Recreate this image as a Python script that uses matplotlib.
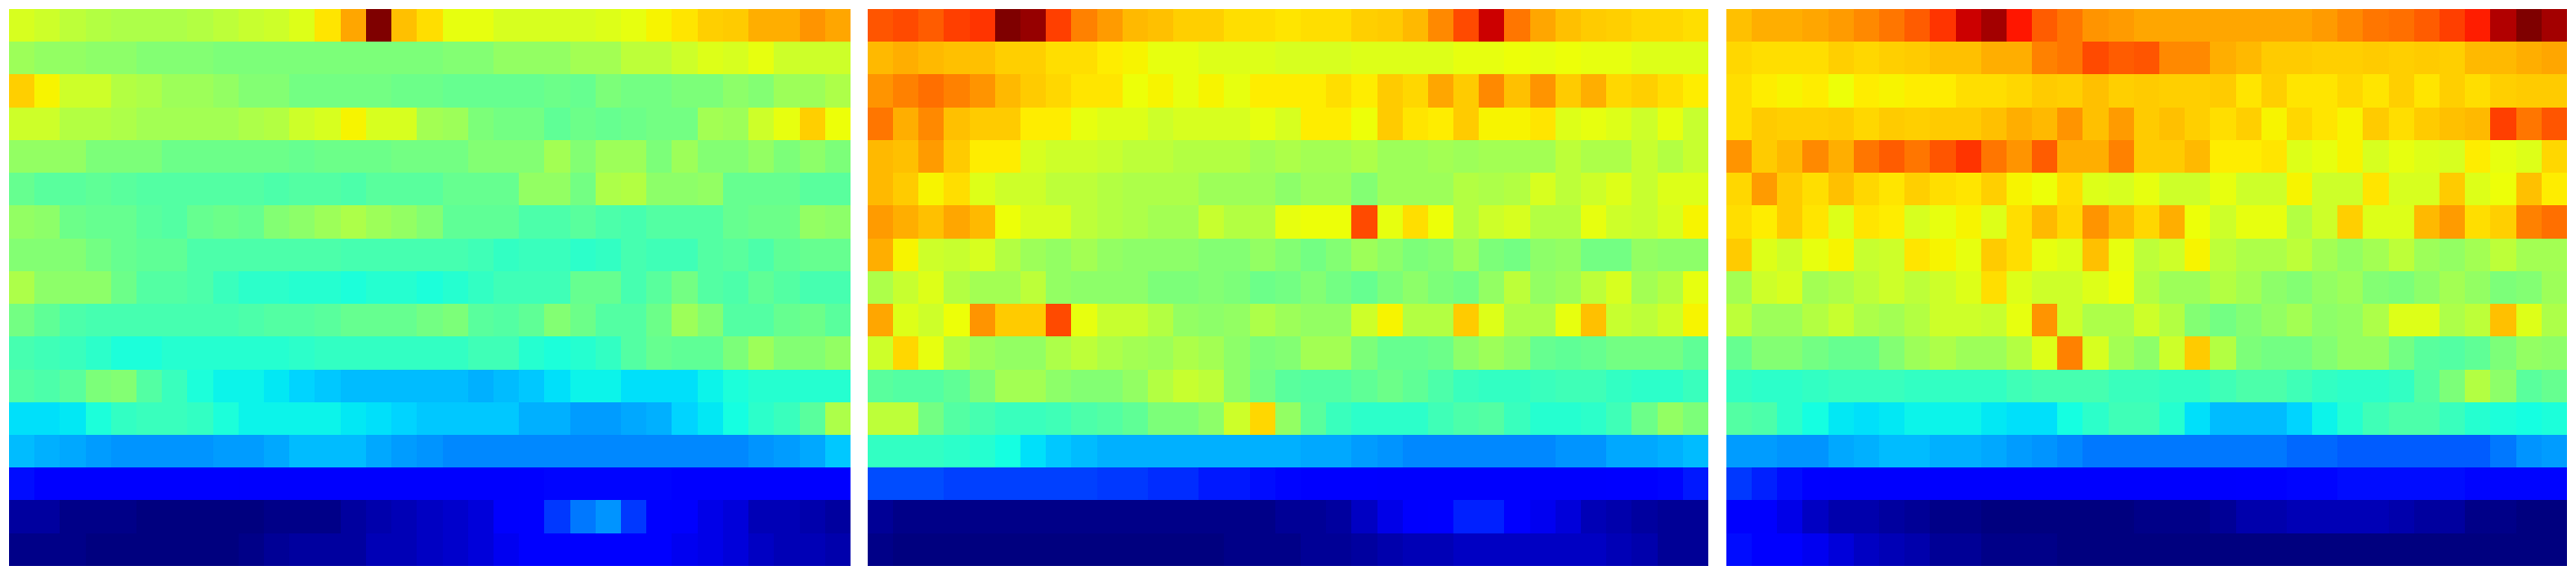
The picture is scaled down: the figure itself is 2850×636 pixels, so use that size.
import numpy as np
import matplotlib
matplotlib.use('Agg')
import matplotlib.pyplot as plt

# values, in percent of the colour range
panel_left = [
    [61,60,58,57,56, 56,56,57,58,59, 60,62,67,75,100, 72,68,63,63,61, 61,61,61,62,63, 65,67,70,71,74, 74,77,75],
    [54,53,53,52,52, 51,51,51,50,50, 50,50,50,50,50, 50,50,51,51,53, 53,53,55,55,58, 58,60,62,61,63, 60,60,60],
    [70,65,60,60,57, 56,54,54,53,51, 51,49,49,49,49, 48,48,47,47,47, 47,48,47,50,49, 49,50,50,52,51, 54,54,56],
    [60,60,57,57,56, 55,55,55,55,56, 57,60,61,65,61, 61,55,54,50,49, 49,46,48,47,48, 49,49,55,54,60, 63,70,64],
    [53,53,53,50,50, 50,48,48,48,48, 48,47,48,48,48, 49,49,49,51,51, 51,55,51,54,54, 50,54,51,51,53, 50,52,50],
    [47,45,45,46,45, 44,44,44,44,44, 43,44,44,43,45, 45,45,47,47,47, 53,53,49,56,57, 52,52,53,47,47, 47,45,45],
    [53,52,48,47,47, 45,44,47,48,47, 51,52,54,56,54, 53,51,46,46,46, 43,43,45,43,42, 44,44,44,47,48, 48,53,52],
    [51,51,51,49,47, 46,46,43,43,43, 43,43,43,42,42, 42,42,42,41,39, 40,40,38,39,42, 41,41,44,45,43, 46,47,47],
    [56,52,52,52,48, 44,44,43,40,38, 38,37,37,36,37, 37,36,37,39,41, 41,41,47,47,42, 45,49,44,43,46, 44,42,42],
    [49,46,43,42,42, 42,42,42,42,43, 44,44,45,47,47, 47,49,50,45,44, 46,51,48,44,44, 48,54,51,44,44, 47,48,45],
    [42,41,40,38,36, 36,37,37,37,37, 37,38,39,39,39, 39,39,39,41,41, 37,36,37,39,44, 47,46,46,50,54, 51,51,53],
    [44,43,45,50,51, 44,40,36,34,34, 33,31,30,29,29, 29,29,29,28,29, 30,32,34,34,32, 32,32,34,36,37, 37,37,37],
    [32,32,33,36,39, 40,40,39,36,34, 34,34,34,33,32, 31,30,30,30,30, 28,28,26,26,27, 28,31,33,35,38, 40,45,56],
    [29,28,27,26,25, 25,25,25,26,26, 27,29,29,29,27, 26,25,24,24,24, 24,24,24,24,24, 24,24,24,24,25, 26,27,30],
    [14,12,12,12,12, 12,12,12,12,11, 11,11,11,11,11, 11,11,11,11,11, 12,13,13,13,13, 13,12,12,12,12, 12,12,12],
    [3,3,1,1,1, 0,0,0,0,0, 1,1,1,3,4, 5,6,7,8,11, 12,18,23,25,18, 12,11,9,8,5, 5,4,3],
    [1,1,1,0,0, 0,0,0,0,1, 2,3,3,3,5, 5,6,7,8,10, 12,12,12,12,12, 12,10,9,8,6, 5,5,4],
]

panel_middle = [
    [84,85,83,86,87, 100,98,86,79,76, 73,72,70,70,68, 68,67,68,68,70, 71,73,78,85,94, 80,75,72,71,70, 69,69,68],
    [73,74,73,72,72, 70,70,68,68,66, 65,63,63,62,62, 62,61,61,61,62, 62,62,62,63,63, 64,63,64,63,63, 62,62,62],
    [77,79,81,79,77, 73,71,69,67,67, 64,65,63,65,63, 66,66,66,68,66, 71,69,75,71,78, 72,77,71,74,69, 70,68,66],
    [80,74,78,72,71, 71,66,66,63,62, 62,60,61,61,61, 63,61,66,66,64, 71,67,66,71,65, 65,67,62,63,62, 60,63,59],
    [73,72,76,71,66, 66,61,60,60,59, 58,58,57,57,57, 55,56,55,55,56, 54,54,55,54,55, 55,55,58,56,56, 59,57,59],
    [73,71,65,68,62, 60,60,58,58,57, 56,56,56,54,54, 54,52,54,54,51, 54,54,54,57,56, 57,61,58,60,62, 59,62,62],
    [76,74,72,75,73, 64,61,61,58,57, 56,55,55,59,57, 57,63,64,64,85, 63,68,64,57,60, 61,57,57,63,60, 59,61,65],
    [74,65,60,59,61, 57,54,53,55,53, 52,52,52,51,51, 53,51,49,51,54, 52,50,51,54,50, 49,52,53,49,49, 53,52,52],
    [56,59,62,57,55, 55,58,53,52,52, 52,50,50,51,50, 48,49,51,49,47, 50,52,50,49,53, 58,53,54,58,61, 55,57,63],
    [75,62,60,64,77, 71,71,85,63,59, 59,57,53,52,53, 56,54,53,53,60, 65,57,57,71,62, 56,56,63,72,59, 58,60,65],
    [60,69,63,57,54, 53,53,56,58,56, 55,54,56,55,52, 50,51,55,55,50, 47,47,48,52,54, 52,47,46,47,49, 49,49,46],
    [45,44,44,46,50, 55,55,52,51,51, 53,57,59,58,52, 49,45,44,44,46, 48,46,43,40,39, 39,40,41,41,39, 38,38,40],
    [58,58,49,44,42, 40,40,41,43,44, 46,50,50,52,60, 69,53,45,40,38, 38,38,41,43,44, 40,37,37,38,41, 48,53,50],
    [39,39,39,38,37, 35,32,30,29,28, 28,28,28,28,28, 28,28,27,27,26, 25,24,24,24,24, 24,24,25,25,27, 27,28,29],
    [20,20,20,19,19, 19,19,19,19,18, 18,17,17,15,15, 14,13,12,12,12, 11,11,11,11,11, 11,11,11,11,12, 12,13,15],
    [2,1,1,1,1, 1,1,1,1,1, 1,1,1,1,1, 1,2,2,3,6, 9,11,12,16,16, 12,10,8,5,4, 3,2,2],
    [1,0,0,0,0, 0,0,0,0,0, 0,0,0,0,1, 1,1,2,2,3, 4,5,5,6,6, 6,6,6,6,5, 4,2,2],
]

panel_right = [
    [72,74,74,75,76, 78,80,83,87,94, 97,90,83,80,77, 76,75,75,75,75, 75,75,75,76,78, 80,81,83,86,89, 96,100,97],
    [69,68,68,68,70, 69,70,71,72,72, 74,74,79,80,85, 83,84,78,78,74, 73,71,71,70,70, 71,70,71,70,73, 73,74,75],
    [68,66,65,66,64, 66,65,66,66,68, 68,69,71,70,72, 70,71,70,70,71, 67,70,67,67,69, 67,70,67,70,68, 70,71,71],
    [68,71,70,70,71, 69,71,70,71,71, 72,74,73,77,72, 76,71,72,70,68, 70,65,69,67,65, 71,68,71,72,73, 86,80,84],
    [77,71,73,78,74, 80,83,80,84,87, 80,77,83,74,74, 79,71,71,73,66, 66,67,62,63,65, 61,63,62,61,66, 63,62,69],
    [69,76,71,68,72, 69,67,70,68,67, 70,65,64,68,62, 61,63,60,60,63, 60,60,65,60,60, 67,61,61,71,62, 64,72,66],
    [68,66,71,67,62, 67,66,61,63,65, 62,68,73,69,77, 73,69,74,64,60, 63,63,57,60,70, 62,62,73,76,68, 70,79,81],
    [71,62,60,63,65, 59,60,67,65,63, 71,68,63,62,72, 63,58,60,65,58, 56,56,58,55,53, 55,58,54,53,55, 58,55,55],
    [55,60,61,55,56, 58,60,58,60,62, 68,62,60,60,62, 64,57,54,54,57, 55,52,51,53,54, 51,50,52,55,53, 50,51,54],
    [58,54,54,57,59, 56,55,57,60,60, 59,63,77,60,56, 56,60,57,51,49, 51,53,55,52,53, 56,62,62,56,58, 72,62,56],
    [47,51,51,49,47, 47,51,54,56,54, 54,57,62,79,61, 55,52,60,71,57, 50,49,49,51,53, 53,49,45,44,46, 50,53,52],
    [39,38,38,39,40, 40,40,39,39,39, 39,41,42,42,42, 40,40,39,39,41, 43,43,41,39,38, 38,39,44,50,57, 52,45,47],
    [44,43,38,35,33, 32,33,34,34,34, 33,32,32,35,38, 41,41,37,32,29, 29,29,31,34,37, 41,43,43,40,37, 36,35,36],
    [26,26,25,25,27, 28,29,29,28,28, 27,26,25,24,23, 23,23,23,23,23, 23,23,22,22,21, 21,21,21,21,21, 23,25,26],
    [18,16,14,12,11, 11,11,11,11,11, 11,11,11,11,11, 11,11,11,11,11, 12,12,13,13,14, 14,14,14,14,13, 13,13,13],
    [11,11,9,6,4, 4,3,2,1,1, 0,0,0,0,0, 0,1,1,1,2, 4,4,5,5,5, 5,4,3,3,1, 1,0,0],
    [14,12,12,10,8, 6,5,4,2,2, 1,1,1,0,0, 0,0,0,0,0, 0,0,0,0,0, 0,0,0,0,0, 0,0,0],
]

# my readings came out low in the cyan band and high in the orange band
read_as = [0, 12, 20, 24, 29, 32, 37, 40, 44, 50, 66, 71, 84, 94, 100]
true_at = [0, 12, 20, 26, 31, 34.5, 39.5, 42, 45, 50, 66, 69.5, 82, 93, 100]

W, H = 2850, 636
fig = plt.figure(figsize=(W / 100, H / 100), dpi=100)

lefts = [10.3, 960.3, 1910.3]
for left, vals in zip(lefts, [panel_left, panel_middle, panel_right]):
    ax = fig.add_axes([left / W, 10 / H, 930 / W, 616 / H])
    ax.imshow(np.interp(np.array(vals, dtype=float), read_as, true_at), cmap='jet',
              vmin=0, vmax=100, aspect='auto', interpolation='nearest')
    ax.axis('off')

fig.savefig('out.png', dpi=100)
